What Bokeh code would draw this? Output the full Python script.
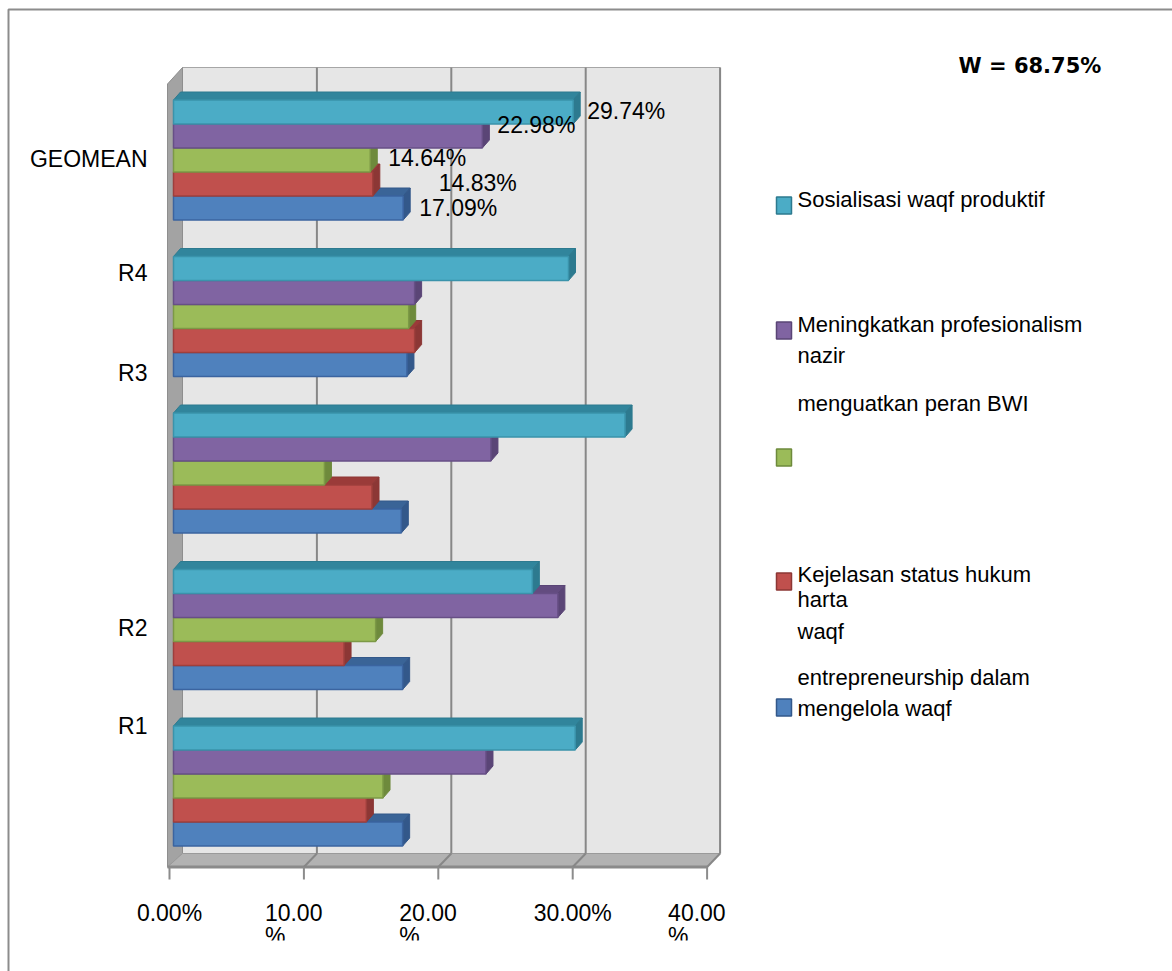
from bokeh.plotting import figure
from bokeh.models import Range1d, ColumnDataSource
from bokeh.core.properties import value
from bokeh.embed import file_html
from bokeh.resources import INLINE

# ---- data -------------------------------------------------------------
categories = ["R1", "R2", "R3", "R4", "GEOMEAN"]          # bottom -> top
series_names = [
    "entrepreneurship dalam mengelola waqf",
    "Kejelasan status hukum harta waqf",
    "menguatkan peran BWI",
    "Meningkatkan profesionalism nazir",
    "Sosialisasi waqf produktif",
]
entrepreneurship = [17.05, 17.05, 16.95, 17.37, 17.09]
kejelasan_status = [14.35, 12.69, 14.77, 17.94, 14.83]
peran_bwi = [15.59, 15.04, 11.23, 17.50, 14.64]
profesionalism = [23.25, 28.60, 23.62, 17.94, 22.98]
sosialisasi = [29.89, 26.70, 33.60, 29.39, 29.74]
series_values = [entrepreneurship, kejelasan_status, peran_bwi, profesionalism, sosialisasi]

x_ticks = [0, 10, 20, 30, 40]
x_tick_labels = ["0.00%", "10.00\n%", "20.00\n%", "30.00%", "40.00\n%"]
w_label = "W = 68.75%"

# ---- styling ----------------------------------------------------------
FONT = value("Liberation Sans")
front_colors = ["#4F81BD", "#C0504D", "#9BBB59", "#8064A2", "#4BACC6"]
top_colors = ["#3A6497", "#9A3B39", "#7A9843", "#634C80", "#31859C"]
side_colors = ["#33588A", "#8C3735", "#6E8A3C", "#5A4576", "#2D7A8F"]
edge_colors = ["#3B64A0", "#9E3F3C", "#7C9946", "#674F86", "#3A93AB"]

W, H = 1172, 971

# screen layout of the 3-D box (pixels) -> data units
PX_PER_PCT = 13.44
X0 = 169.0
PX_PER_CAT = 156.5
Y0 = 785.5


def xd(px):
    return (px - X0) / PX_PER_PCT


def yd(py):
    return (Y0 - py) / PX_PER_CAT


def dx(px):
    return px / PX_PER_PCT


def dy(px):
    return px / PX_PER_CAT


p = figure(width=W, height=H, output_backend="svg", toolbar_location=None,
           x_range=Range1d(xd(0), xd(W)), y_range=Range1d(yd(H), yd(0)),
           x_axis_location=None, y_axis_location=None,
           min_border=0, outline_line_color=None,
           background_fill_color="white", border_fill_color="white")
p.xgrid.visible = False
p.ygrid.visible = False

# outer frame
p.line([xd(8), xd(8), xd(W)], [yd(H), yd(9), yd(9)], line_color="#8C8C8C", line_width=2)

# ---- walls and floor --------------------------------------------------
depth_x = dx(13)
depth_y = dy(13.5)
floor_front = yd(866.5)
floor_back = floor_front + depth_y
wall_top = yd(67)
x_left_front = xd(167)
x_max = x_ticks[-1]

# back wall
p.quad(left=[x_left_front + depth_x + dx(2)], right=[x_max + depth_x], bottom=[floor_back], top=[wall_top],
       fill_color="#E6E6E6", line_color="#A6A6A6", line_width=1)
# left side wall
p.patch([x_left_front, x_left_front, x_left_front + depth_x + dx(2), x_left_front + depth_x + dx(2)],
        [floor_front, wall_top - depth_y - dy(3), wall_top, floor_back],
        fill_color="#A3A3A3", line_color="#8E8E8E", line_width=1)
# floor
p.patch([x_left_front, x_left_front + depth_x + dx(2), x_max + depth_x, x_max],
        [floor_front, floor_back, floor_back, floor_front],
        fill_color="#B2B2B2", line_color="#9A9A9A", line_width=1)
p.line([x_left_front, x_max], [floor_front, floor_front], line_color="#8A8A8A", line_width=3)

# gridlines on back wall and floor
for t in x_ticks[1:]:
    p.line([t + depth_x, t + depth_x], [floor_back, wall_top], line_color="#878787", line_width=2)
    p.line([t, t + depth_x], [floor_front, floor_back], line_color="#878787", line_width=2)

# tick marks under the floor edge
p.segment(x0=x_ticks, x1=x_ticks, y0=[floor_front] * 5, y1=[yd(879)] * 5,
          line_color="#8C8C8C", line_width=2)

# ---- 3-D bars ---------------------------------------------------------
bar_h = dy(24)
bar_x0 = dx(4)
face_dx = dx(7)
face_dy = dy(8)

for i, vals in enumerate(series_values):
    lefts, rights, bottoms, tops = [], [], [], []
    top_xs, top_ys, side_xs, side_ys = [], [], [], []
    for c, v in enumerate(vals):
        center = c + (i - 2) * bar_h
        b = center - bar_h / 2
        t = center + bar_h / 2
        l = bar_x0
        r = bar_x0 + v
        lefts.append(l); rights.append(r); bottoms.append(b); tops.append(t)
        top_xs.append([l, l + face_dx, r + face_dx, r])
        top_ys.append([t, t + face_dy, t + face_dy, t])
        side_xs.append([r, r + face_dx, r + face_dx, r])
        side_ys.append([t, t + face_dy, b + face_dy, b])
    p.patches(top_xs, top_ys, fill_color=top_colors[i], line_color=side_colors[i], line_width=1)
    p.patches(side_xs, side_ys, fill_color=side_colors[i], line_color=side_colors[i], line_width=1)
    src = ColumnDataSource(dict(left=lefts, right=rights, bottom=bottoms, top=tops))
    p.quad(left="left", right="right", bottom="bottom", top="top", source=src,
           fill_color=front_colors[i], line_color=edge_colors[i], line_width=1.5)

# value labels on the GEOMEAN group (screen offsets: +y is downward)
g = categories.index("GEOMEAN")
label_dx = [16, 66, 18, 15, 14]
label_dy = [0, -1, -2, -11, -1]
for i, vals in enumerate(series_values):
    v = vals[g]
    p.text(x=[bar_x0 + v], y=[g + (i - 2) * bar_h], text=[f"{v:.2f}%"],
           x_offset=label_dx[i], y_offset=label_dy[i],
           text_font=FONT, text_font_size="23px", text_color="black",
           text_align="left", text_baseline="middle")

# ---- category labels --------------------------------------------------
cat_label_py = [725, 627, 372, 272, 158]
p.text(x=[xd(147)] * len(categories), y=[yd(py) for py in cat_label_py], text=categories,
       text_font=FONT, text_font_size="23px", text_color="black",
       text_align="right", text_baseline="middle")

# ---- x tick labels ----------------------------------------------------
for t, lab in zip(x_ticks, x_tick_labels):
    lines = lab.split("\n")
    if len(lines) == 1:
        p.text(x=[t], y=[yd(912)], text=[lines[0]], text_font=FONT, text_font_size="23px",
               text_color="black", text_align="center", text_baseline="middle")
    else:
        p.text(x=[t, t], y=[yd(912), yd(935)], text=lines, x_offset=-39,
               text_font=FONT, text_font_size="23px", text_color="black",
               text_align="left", text_baseline="middle")

# the axis label box ends here, so wrapped lines are cut off
p.quad(left=[xd(120)], right=[xd(745)], bottom=[yd(H)], top=[yd(940)],
       fill_color="white", line_color=None)

# ---- legend -----------------------------------------------------------
legend_order = [4, 3, 2, 1, 0]
legend_square_py = [205, 330, 457, 581, 707]
for k, i in enumerate(legend_order):
    cy = legend_square_py[k]
    p.quad(left=[xd(776)], right=[xd(791)], bottom=[yd(cy + 8.5)], top=[yd(cy - 8.5)],
           fill_color=front_colors[i], line_color=side_colors[i], line_width=1.5)

legend_lines = ["Sosialisasi waqf produktif",
                "Meningkatkan profesionalism", "nazir",
                "menguatkan peran BWI",
                "Kejelasan status hukum", "harta", "waqf",
                "entrepreneurship dalam", "mengelola waqf"]
legend_line_py = [199, 324, 355, 403, 574, 599, 631, 677, 708]
p.text(x=[xd(797)] * len(legend_lines), y=[yd(py) for py in legend_line_py], text=legend_lines,
       text_font=FONT, text_font_size="22px", text_color="black",
       text_align="left", text_baseline="middle")

p.text(x=[xd(958)], y=[yd(65.5)], text=[w_label], text_font=value("DejaVu Sans"),
       text_font_size="21px", text_font_style="bold", text_color="black",
       text_align="left", text_baseline="middle")

open("out.html", "w").write(file_html(p, INLINE))
